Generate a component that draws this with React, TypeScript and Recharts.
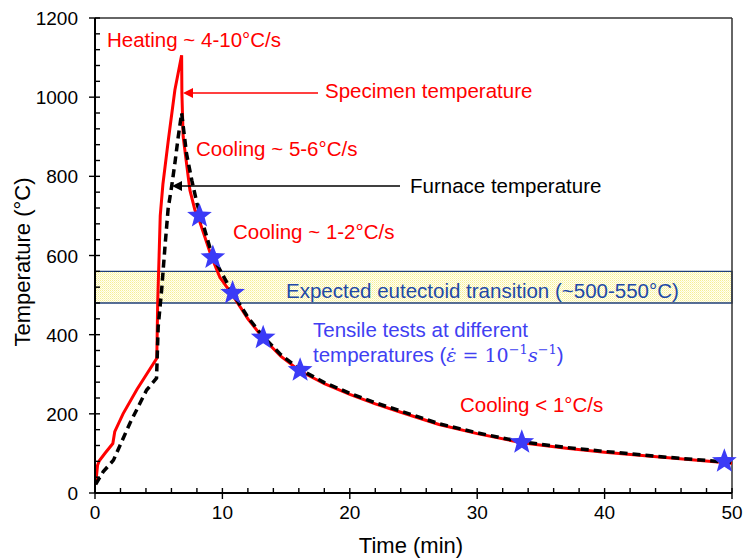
import {
  ComposedChart,
  Line,
  Scatter,
  XAxis,
  YAxis,
  ReferenceArea,
  ReferenceLine,
} from 'recharts';

// specimen temperature (red, solid)
const specTime = [0.05, 0.2, 0.35, 0.8, 1.4, 1.55, 2.2, 3.3, 4.85, 4.92, 5.05, 5.12, 5.33, 5.75, 6.27, 6.8, 6.82, 6.92, 7.45, 7.84, 8.1, 9.15, 9.8, 10.8, 12, 13.2, 14.6, 16.1, 18, 20, 22, 24, 27, 30, 33.5, 37, 40, 45, 50];
const specTemp = [22, 70, 82, 101, 125, 155, 200, 262, 340, 480, 620, 700, 780, 890, 1018, 1106, 1010, 900, 765, 715, 697, 596, 545, 500, 440, 391, 345, 308, 276, 249, 225, 204, 173, 150, 127, 113, 103, 89, 75];

// furnace temperature (black, dashed)
const furnTime = [0.05, 0.65, 1.45, 2.75, 4.05, 4.83, 4.96, 5.23, 5.49, 5.74, 6.01, 6.27, 6.53, 6.8, 7.18, 7.6, 8.0, 9.2, 10.8, 12, 13.2, 14.6, 16.1, 18, 20, 22, 24, 27, 30, 33.5, 37, 40, 45, 50];
const furnTemp = [22, 54, 83, 177, 260, 290, 420, 513, 621, 718, 773, 833, 899, 960, 858, 790, 732, 600, 505, 444, 395, 349, 312, 279, 252, 228, 207, 175, 152, 129, 115, 105, 90, 77];

// tensile tests
const testTime = [8.2, 9.25, 10.8, 13.2, 16.1, 33.5, 49.4];
const testTemp = [700, 595, 505, 392, 310, 128, 80];

const xMajor = [0, 10, 20, 30, 40, 50];
const yMajor = [0, 200, 400, 600, 800, 1000, 1200];
const xMinorStep = 2;
const yMinorStep = 40;

const band = [480, 560];

const spec = specTime.map((t, i) => ({ t, temp: specTemp[i] }));
const furn = furnTime.map((t, i) => ({ t, temp: furnTemp[i] }));
const tests = testTime.map((t, i) => ({ t, temp: testTemp[i] }));

const xTicks = Array.from({ length: 50 / xMinorStep + 1 }, (_, i) => i * xMinorStep);
const yTicks = Array.from({ length: 1200 / yMinorStep + 1 }, (_, i) => i * yMinorStep);

const FONT = '"Liberation Sans", Arial, sans-serif';
const SERIF = '"DejaVu Serif", "Liberation Serif", serif';
const RED = '#ff0000';

function XTick({ x, y, payload }: any) {
  const major = xMajor.includes(payload.value);
  return (
    <g>
      <line x1={x} x2={x} y1={y - 5} y2={major ? y + 6 : y} stroke="#000" strokeWidth={1.4} />
      {major && (
        <text x={x} y={y + 26} textAnchor="middle" fontSize={19} fontFamily={FONT} fill="#000">
          {payload.value}
        </text>
      )}
    </g>
  );
}

function YTick({ x, y, payload }: any) {
  const major = yMajor.includes(payload.value);
  return (
    <g>
      <line x1={major ? x - 6 : x} x2={x + 5} y1={y} y2={y} stroke="#000" strokeWidth={1.4} />
      {major && (
        <text x={x - 17} y={y + 7} textAnchor="end" fontSize={19} fontFamily={FONT} fill="#000">
          {payload.value}
        </text>
      )}
    </g>
  );
}

function Star({ cx, cy }: any) {
  if (cx == null || cy == null) return null;
  const R = 13;
  const r = 5.5;
  const pts: string[] = [];
  for (let i = 0; i < 10; i++) {
    const a = -Math.PI / 2 + (i * Math.PI) / 5;
    const rad = i % 2 === 0 ? R : r;
    pts.push(`${cx + rad * Math.cos(a)},${cy + rad * Math.sin(a)}`);
  }
  return <polygon points={pts.join(' ')} fill="#3b3bf6" />;
}

function Annotations() {
  const t = { fontFamily: FONT, fontSize: 20.5 };
  return (
    <svg
      width={744}
      height={559}
      style={{ position: 'absolute', left: 0, top: 0, pointerEvents: 'none' }}
    >
      <text x={107} y={47} fill={RED} {...t}>Heating ~ 4-10°C/s</text>

      <line x1={190} x2={318} y1={93} y2={93} stroke={RED} strokeWidth={1.3} />
      <polygon points="183,93 193,88 193,98" fill={RED} />
      <text x={325} y={98} fill={RED} {...t}>Specimen temperature</text>

      <text x={196} y={156} fill={RED} {...t}>Cooling ~ 5-6°C/s</text>

      <line x1={180} x2={400} y1={186} y2={186} stroke="#000" strokeWidth={1.3} />
      <polygon points="172,186 182,181 182,191" fill="#000" />
      <text x={410} y={193} fill="#000" {...t}>Furnace temperature</text>

      <text x={233} y={239} fill={RED} {...t}>Cooling ~ 1-2°C/s</text>

      <text x={286} y={298} fill="#2149a6" {...t}>Expected eutectoid transition (~500-550°C)</text>

      <text x={313} y={337} fill="#4040f2" {...t}>Tensile tests at different</text>
      <text x={313} y={362} fill="#4040f2" {...t}>
        temperatures (
        <tspan fontFamily={SERIF} fontStyle="italic" fontSize={19}>ε̇</tspan>
        <tspan fontFamily={SERIF} fontSize={19}> = 10</tspan>
        <tspan fontFamily={SERIF} fontSize={13} dy={-8}>−1</tspan>
        <tspan fontFamily={SERIF} fontStyle="italic" fontSize={19} dy={8}>s</tspan>
        <tspan fontFamily={SERIF} fontSize={13} dy={-8}>−1</tspan>
        <tspan dy={8}>)</tspan>
      </text>

      <text x={460} y={412} fill={RED} {...t}>Cooling &lt; 1°C/s</text>

      <text
        x={30}
        y={262}
        textAnchor="middle"
        transform="rotate(-90, 30, 262)"
        fontFamily={FONT}
        fontSize={22}
        fill="#000"
      >
        Temperature (°C)
      </text>
      <text x={411} y={553} textAnchor="middle" fontFamily={FONT} fontSize={22} fill="#000">
        Time (min)
      </text>
    </svg>
  );
}

export default function App() {
  return (
    <div style={{ position: 'absolute', left: 0, top: 0, width: 744, height: 559, background: '#fff' }}>
      <svg width={0} height={0} style={{ position: 'absolute' }}>
        <defs>
          <pattern id="bandDots" width={2} height={2} patternUnits="userSpaceOnUse">
            <rect width={2} height={2} fill="#fffff2" />
            <rect width={1} height={1} fill="#f6ee94" />
            <rect x={1} y={1} width={1} height={1} fill="#fbf5c0" />
          </pattern>
        </defs>
      </svg>
      <ComposedChart
        width={744}
        height={559}
        margin={{ top: 18, right: 12, left: 0, bottom: 0 }}
      >
        <XAxis
          type="number"
          dataKey="t"
          domain={[0, 50]}
          ticks={xTicks}
          interval={0}
          tick={<XTick />}
          tickLine={false}
          tickSize={0}
          tickMargin={0}
          height={66}
          axisLine={{ stroke: '#000', strokeWidth: 2 }}
        />
        <YAxis
          type="number"
          dataKey="temp"
          domain={[0, 1200]}
          ticks={yTicks}
          interval={0}
          tick={<YTick />}
          tickLine={false}
          tickSize={0}
          tickMargin={0}
          width={95}
          axisLine={{ stroke: '#000', strokeWidth: 2 }}
        />
        <ReferenceArea
          y1={band[0]}
          y2={band[1]}
          x1={0}
          x2={50}
          fill="url(#bandDots)"
          fillOpacity={1}
          stroke="#1f3f7a"
          strokeWidth={1.3}
        />
        <ReferenceLine y={1200} stroke="#333" strokeWidth={1.5} />
        <ReferenceLine x={50} stroke="#333" strokeWidth={1.5} />
        <Line
          data={spec}
          dataKey="temp"
          type="linear"
          stroke={RED}
          strokeWidth={3}
          dot={false}
          isAnimationActive={false}
        />
        <Line
          data={furn}
          dataKey="temp"
          type="linear"
          stroke="#000"
          strokeWidth={3.5}
          strokeDasharray="8 5"
          dot={false}
          isAnimationActive={false}
        />
        <Scatter data={tests} dataKey="temp" shape={<Star />} isAnimationActive={false} />
      </ComposedChart>
      <Annotations />
    </div>
  );
}
